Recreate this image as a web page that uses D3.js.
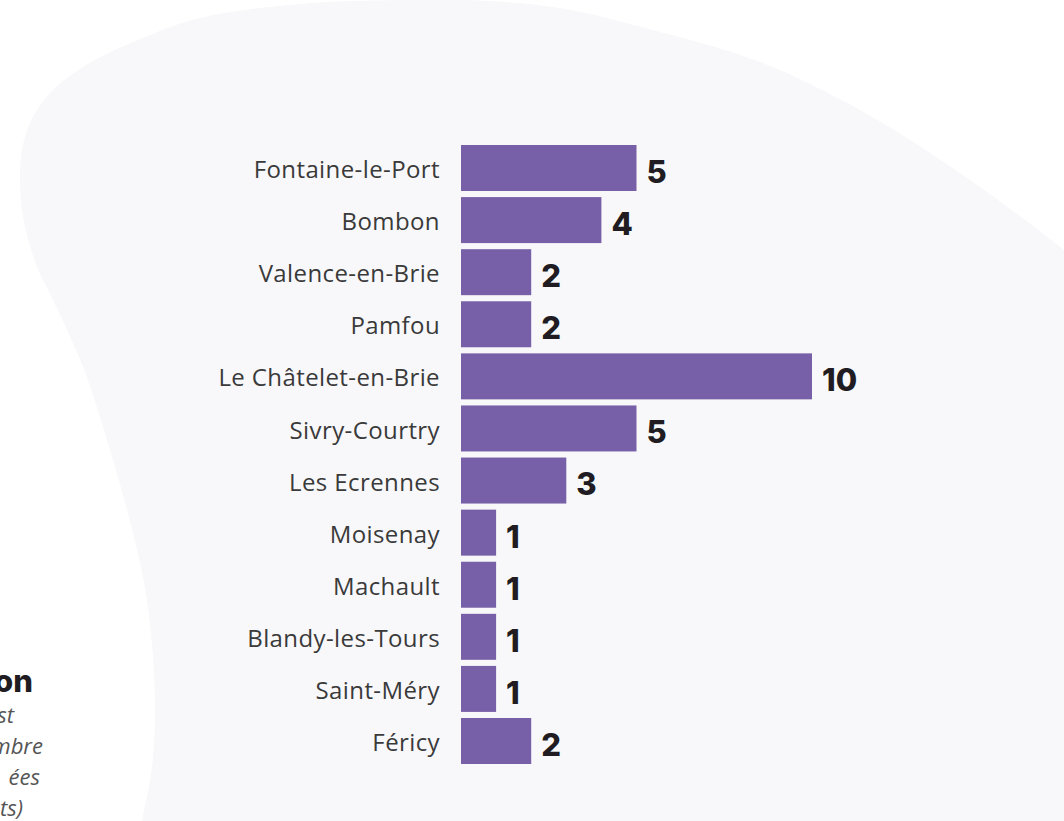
<!DOCTYPE html>
<html>
<head>
<meta charset="utf-8">
<script src="https://cdn.jsdelivr.net/npm/d3@7"></script>
<style>
  html, body { margin: 0; padding: 0; background: #ffffff; }
  svg { display: block; }
</style>
</head>
<body>
<svg id="chart" width="1064" height="821"></svg>
<script>
// Communes and their counts
const communes = [
  "Fontaine-le-Port", "Bombon", "Valence-en-Brie", "Pamfou",
  "Le Châtelet-en-Brie", "Sivry-Courtry", "Les Ecrennes", "Moisenay",
  "Machault", "Blandy-les-Tours", "Saint-Méry", "Féricy"
];
const counts = [5, 4, 2, 2, 10, 5, 3, 1, 1, 1, 1, 2];

// Fragments of the side caption that fall inside the frame
const captionTitle = "on";
const captionLines = ["st", "mbre", "ées", "ts)"];

const W = 1064, H = 821;
const svg = d3.select("#chart");

// Soft background blob
const blobPts = [
  [1100, 280], [1064, 250], [960, 173], [860, 110], [760, 62], [660, 32],
  [560, 8], [470, 0], [400, 0], [300, 4], [200, 18], [133, 42], [83, 67],
  [50, 93], [30, 123], [22, 150], [20, 175], [23, 217], [37, 267], [53, 300],
  [83, 367], [110, 450], [133, 533], [147, 600], [155, 700], [152, 767],
  [142, 821], [135, 860], [1100, 860]
];
svg.append("path")
  .attr("d", d3.line().curve(d3.curveCatmullRomClosed.alpha(0.5))(blobPts))
  .attr("fill", "#f8f8fa");

// Scales
const x = d3.scaleLinear().domain([0, 10]).range([461, 812]);
const y = d3.scaleBand().domain(communes).range([145, 764]).paddingInner(0.117).paddingOuter(0);

const data = communes.map((c, i) => ({ name: c, value: counts[i] }));

// Bars
svg.append("g").selectAll("rect").data(data).join("rect")
  .attr("x", x(0))
  .attr("y", d => y(d.name))
  .attr("width", d => x(d.value) - x(0))
  .attr("height", y.bandwidth())
  .attr("fill", "#7860a8");

// Category axis (labels only)
const yAxis = d3.axisLeft(y).tickSize(0).tickPadding(0);
const gy = svg.append("g").attr("transform", `translate(${440},0)`).call(yAxis);
gy.select(".domain").remove();
gy.selectAll("text")
  .attr("font-family", "'Open Sans', sans-serif")
  .attr("font-size", 24)
  .attr("letter-spacing", 0.4)
  .attr("fill", "#3a3a3a")
  .attr("dy", "0.42em");

// Value labels
svg.append("g").selectAll("text").data(data).join("text")
  .attr("x", d => x(d.value) + 10)
  .attr("y", d => y(d.name) + y.bandwidth() / 2)
  .attr("dy", "0.48em")
  .attr("font-family", "Inter, sans-serif")
  .attr("font-weight", 800)
  .attr("font-size", 31)
  .attr("fill", "#201c22")
  .text(d => d.value);

// Side caption
svg.append("text")
  .attr("x", 33).attr("y", 692)
  .attr("text-anchor", "end")
  .attr("font-family", "Inter, sans-serif")
  .attr("font-weight", 800)
  .attr("font-size", 31)
  .attr("fill", "#201c22")
  .text(captionTitle);

const captionRight = [14, 43, 40, 23];
svg.append("g").selectAll("text").data(captionLines).join("text")
  .attr("x", (d, i) => captionRight[i])
  .attr("y", (d, i) => 723 + i * 31)
  .attr("text-anchor", "end")
  .attr("font-family", "'Open Sans', sans-serif")
  .attr("font-style", "italic")
  .attr("font-size", 22)
  .attr("fill", "#555")
  .text(d => d);
</script>
</body>
</html>
